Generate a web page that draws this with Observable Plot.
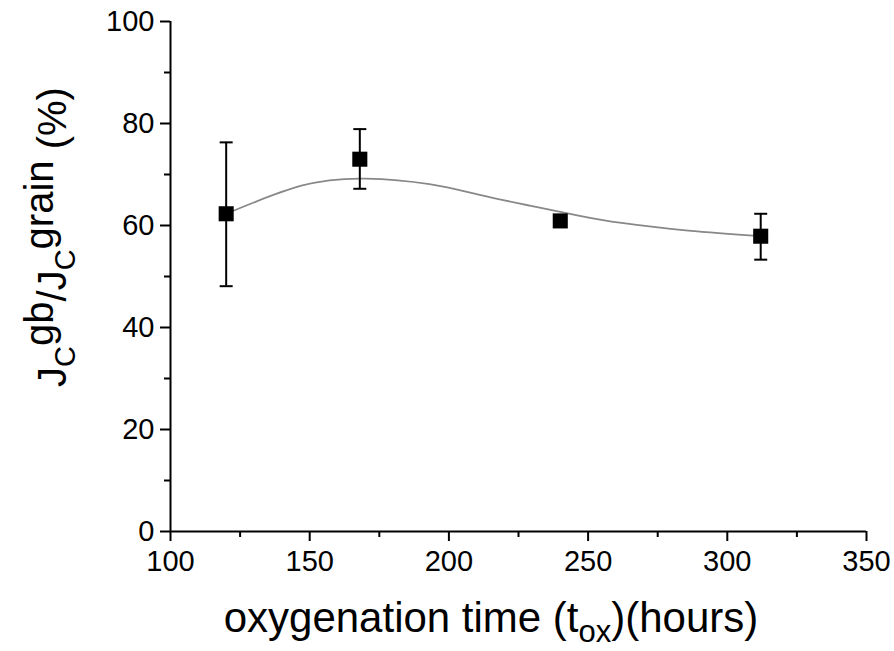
<!DOCTYPE html>
<html>
<head>
<meta charset="utf-8">
<script src="https://cdn.jsdelivr.net/npm/d3@7"></script>
<script src="https://cdn.jsdelivr.net/npm/@observablehq/plot@0.6"></script>
<style>
  html, body { margin: 0; padding: 0; background: #fff; }
  #chart { width: 894px; height: 651px; }
</style>
</head>
<body>
<div id="chart"></div>
<script>
// ---- data ----
const hours = [120, 168, 240, 312];
const ratio = [62.3, 73.0, 60.9, 57.9];
const errLow = [14.2, 5.8, 0.8, 4.6];
const errHigh = [14.0, 5.9, 0.8, 4.4];

// smooth fitted curve
const fitX = [120, 147, 170, 193, 211, 229, 247, 262, 286, 312];
const fitY = [62.3, 67.8, 69.2, 68.1, 66.0, 63.9, 61.9, 60.5, 59.0, 57.9];

const xMajor = [100, 150, 200, 250, 300, 350];
const xMinor = [125, 175, 225, 275, 325];
const yMajor = [0, 20, 40, 60, 80, 100];
const yMinor = [10, 30, 50, 70, 90];

const points = hours.map((h, i) => ({x: h, y: ratio[i], lo: ratio[i] - errLow[i], hi: ratio[i] + errHigh[i]}));
const fit = fitX.map((x, i) => ({x, y: fitY[i]}));

const capSymbol = {
  draw(ctx, size) {
    const w = Math.sqrt(size / Math.PI);
    ctx.moveTo(-w, 0);
    ctx.lineTo(w, 0);
  }
};

const font = "Liberation Sans, Arial, Helvetica, sans-serif";

const plot = Plot.plot({
  width: 894,
  height: 651,
  marginLeft: 170,
  marginRight: 28,
  marginTop: 21,
  marginBottom: 120,
  style: {fontFamily: font, fontSize: "29px", color: "#000", background: "#fff"},
  x: {domain: [100, 350]},
  y: {domain: [0, 100]},
  marks: [
    Plot.axisX({ticks: xMajor, tickSize: 10, tickPadding: 9, tickFormat: d => d, label: null, strokeWidth: 2, fontSize: 29}),
    Plot.axisX({ticks: xMinor, tickSize: 6, tickFormat: () => "", label: null, strokeWidth: 2}),
    Plot.axisY({ticks: yMajor, tickSize: 10, tickPadding: 6, tickFormat: d => d, label: null, strokeWidth: 2, fontSize: 29}),
    Plot.axisY({ticks: yMinor, tickSize: 6, tickFormat: () => "", label: null, strokeWidth: 2}),
    Plot.ruleY([0], {stroke: "#000", strokeWidth: 2}),
    Plot.ruleX([100], {stroke: "#000", strokeWidth: 2}),
    Plot.line(fit, {x: "x", y: "y", curve: "natural", stroke: "#888", strokeWidth: 1.8}),
    Plot.ruleX(points, {x: "x", y1: "lo", y2: "hi", stroke: "#000", strokeWidth: 2}),
    Plot.dot(points, {x: "x", y: "hi", symbol: capSymbol, r: 6.5, stroke: "#000", strokeWidth: 2, fill: "none"}),
    Plot.dot(points, {x: "x", y: "lo", symbol: capSymbol, r: 6.5, stroke: "#000", strokeWidth: 2, fill: "none"}),
    Plot.dot(points, {x: "x", y: "y", symbol: "square", r: 8.5, fill: "#000", stroke: "none"})
  ]
});

document.getElementById("chart").appendChild(plot);

// axis titles with sub/superscripts
const svg = d3.select(plot);

const xt = svg.append("text")
  .attr("x", 491).attr("y", 632)
  .attr("text-anchor", "middle")
  .attr("font-family", font)
  .attr("font-size", 42)
  .attr("fill", "#000");
xt.append("tspan").text("oxygenation time (t");
xt.append("tspan").attr("font-size", 31).attr("dy", 10).text("ox");
xt.append("tspan").attr("dy", -10).text(")(hours)");

const yt = svg.append("text")
  .attr("transform", "translate(66,237) rotate(-90)")
  .attr("text-anchor", "middle")
  .attr("font-family", font)
  .attr("font-size", 40)
  .attr("fill", "#000");
yt.append("tspan").text("J");
yt.append("tspan").attr("font-size", 29).attr("dy", 9).text("C");
yt.append("tspan").attr("dy", -22).text("gb");
yt.append("tspan").attr("dy", 13).text("/J");
yt.append("tspan").attr("font-size", 29).attr("dy", 9).text("C");
yt.append("tspan").attr("dy", -22).text("grain");
yt.append("tspan").attr("dy", 13).text(" (%)");
</script>
</body>
</html>
